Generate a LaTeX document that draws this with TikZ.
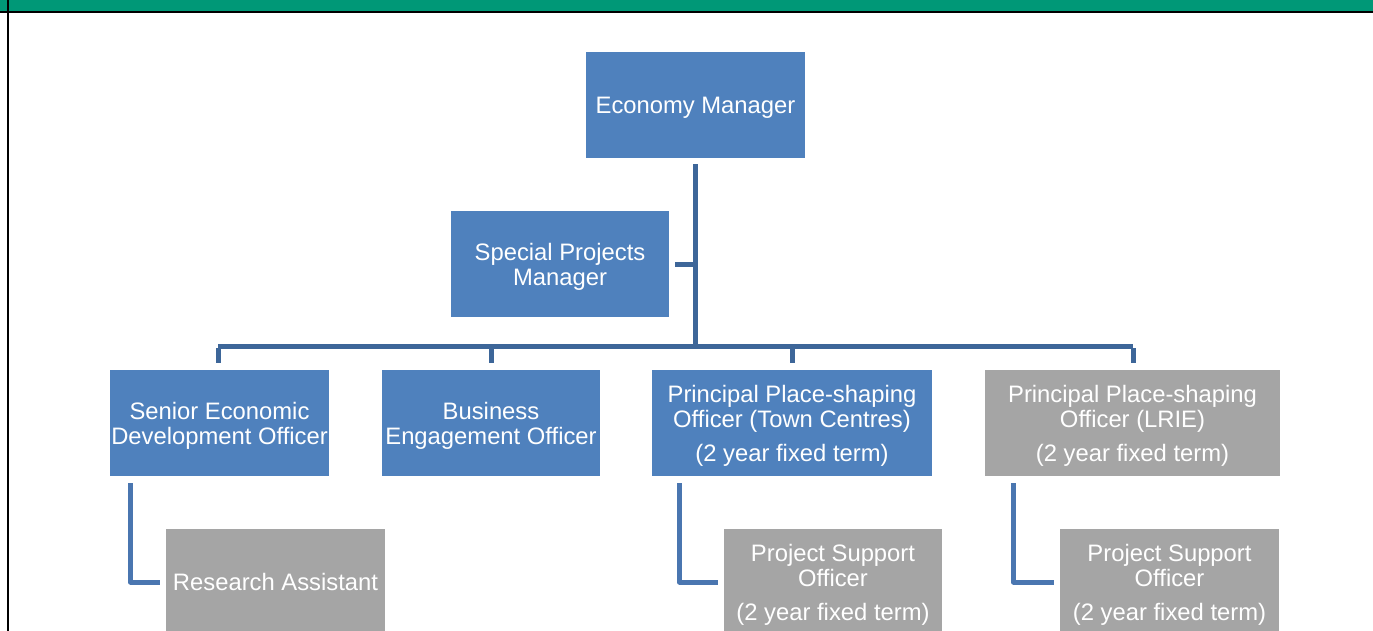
\documentclass[tikz,border=0pt]{standalone}
\usepackage{fontspec}
\setmainfont{Liberation Sans}
\usepackage{tikz}
\usetikzlibrary{positioning}

\definecolor{barGreen}{HTML}{009877}
\definecolor{boxBlue}{HTML}{4F81BD}
\definecolor{boxGrey}{HTML}{A5A5A5}
\definecolor{treeBlue}{HTML}{3D6699}
\definecolor{legBlue}{HTML}{4A76B0}

\tikzset{
  post/.style = {fill=boxBlue, text=white, minimum height=106pt, inner sep=0pt,
                 text depth=0pt, align=center, font=\fontsize{23.8}{25}\selectfont},
  postgrey/.style = {post, fill=boxGrey},
  tree/.style = {draw=treeBlue, line width=5pt},
  leg/.style = {draw=legBlue, line width=5pt, line join=round}
}

\begin{document}
\begin{tikzpicture}[x=1pt, y=-1pt]
\useasboundingbox (0,0) rectangle (1373,631);
\clip (0,0) rectangle (1373,631);
% frame
\fill[barGreen] (0,0) rectangle (1373,11);
\draw[line width=2.5pt] (0,12) -- (1373,12);
\draw[line width=2.5pt] (8,0) -- (8,631);

% posts
\node[post, minimum width=219pt] (econ) at (695.5,105) {Economy Manager};
\node[post, minimum width=218pt] (spm) at (560,264) {Special Projects\\Manager};
\node[post, minimum width=219pt] (sedo) at (219.5,423) {Senior Economic\\Development Officer};
\node[post, minimum width=218pt] (beo) at (491,423) {Business\\Engagement Officer};
\node[post, minimum width=280pt] (ppsotc) at (792,423) {Principal Place-shaping\\Officer (Town Centres)\\[9pt](2 year fixed term)};
\node[postgrey, minimum width=295pt] (ppsol) at (1132.5,423) {Principal Place-shaping\\Officer (LRIE)\\[9pt](2 year fixed term)};
\node[postgrey, minimum width=219pt] (ra) at (275.5,582) {Research Assistant};
\node[postgrey, minimum width=218pt] (psoa) at (833,582) {Project Support\\Officer\\[9pt](2 year fixed term)};
\node[postgrey, minimum width=219pt] (psob) at (1169.5,582) {Project Support\\Officer\\[9pt](2 year fixed term)};

% tree
\coordinate (busL) at (218,346.5);
\coordinate (busR) at (1133,346.5);
\draw[tree] ([yshift=-6pt]econ.south) -- (econ.south |- busL);
\draw[tree] ([xshift=6pt]spm.east) -- (econ.south |- spm.east);
\draw[tree] (busL) -- (busR);
\draw[tree] ([yshift=-1.5pt]busL) -- ([yshift=7pt]busL |- sedo.north);
\draw[tree] (beo.north |- busL) -- ([yshift=7pt]beo.north);
\draw[tree] (ppsotc.north |- busL) -- ([yshift=7pt]ppsotc.north);
\draw[tree] ([yshift=-1.5pt]busR) -- ([yshift=7pt]busR |- ppsol.north);

% legs
\draw[leg] (130.5,483) |- ([xshift=-6pt]ra.west);
\draw[leg] (679.5,483) |- ([xshift=-6pt]psoa.west);
\draw[leg] (1013.5,483) |- ([xshift=-6pt]psob.west);
\end{tikzpicture}
\end{document}
